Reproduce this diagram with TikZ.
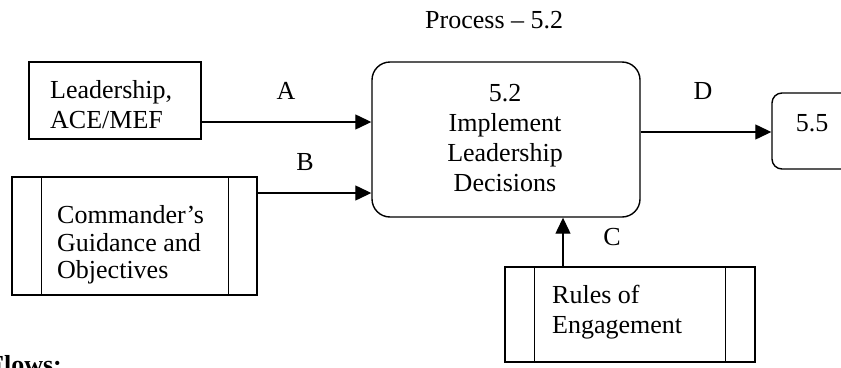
\documentclass[tikz,border=0pt]{standalone}
\usepackage{fontspec}
\setmainfont{Liberation Serif}
\usetikzlibrary{arrows.meta}
\begin{document}
\begin{tikzpicture}[x=1pt,y=-1pt,
  box/.style={draw,line width=1.4pt,inner sep=0pt,minimum width=#1},
  txt/.style={inner sep=0pt,font=\fontsize{26}{30}\selectfont},
  arr/.style={line width=1.3pt,-{Triangle[length=16pt,width=15pt]}},
  lbl/.style={inner sep=0pt,anchor=base,font=\fontsize{26}{30}\selectfont}]
\useasboundingbox (0,0) rectangle (841,367);
% boxes
\node[box=172pt,minimum height=77pt] (lead) at (115,100.5) {};
\node[box=245pt,minimum height=118pt] (cmd) at (134.5,236) {};
\draw[line width=1.4pt] ([xshift=30pt]cmd.north west) -- ([xshift=30pt]cmd.south west)
  ([xshift=-29pt]cmd.north east) -- ([xshift=-29pt]cmd.south east);
\node[box=268pt,minimum height=155pt,rounded corners=18pt] (main) at (506,139.5) {};
\node[box=88pt,minimum height=76pt,rounded corners=10pt] (r55) at (816,131) {};
\node[box=250pt,minimum height=95pt] (rules) at (630,314.5) {};
\draw[line width=1.4pt] ([xshift=30pt]rules.north west) -- ([xshift=30pt]rules.south west)
  ([xshift=-30pt]rules.north east) -- ([xshift=-30pt]rules.south east);
% texts
\node[txt,anchor=base west] (title) at (425,28) {Process -- 5.2};
\node[txt,anchor=north west,align=left] (leadt) at (50,80.5) {Leadership,\\ACE/MEF};
\node[txt,anchor=north west,align=left,font=\fontsize{26}{27.5}\selectfont] (cmdt) at (57,205.5) {Commander’s\\Guidance and\\Objectives};
\node[txt,anchor=north,align=center] (maint) at (505,84.5) {5.2\\Implement\\Leadership\\Decisions};
\node[lbl] (r55t) at (812,131) {5.5};
\node[txt,anchor=north west,align=left] (rulest) at (552,284.5) {Rules of\\Engagement};
\node[inner sep=0pt,anchor=base west,font=\fontsize{26}{30}\selectfont\bfseries] (flows) at (-12,373) {Flows:};
% connectors
\draw[arr] (lead.east |- 0,122) -- (main.west |- 0,122);
\draw[arr] (cmd.east |- 0,193) -- (main.west |- 0,193);
\draw[arr] (main.east |- 0,132) -- (r55.west |- 0,132);
\draw[arr] (rules.north -| 563,0) -- (main.south -| 563,0);
% labels
\node[lbl] (la) at (286,99) {A};
\node[lbl] (lb) at (305,170) {B};
\node[lbl] (lc) at (612,245) {C};
\node[lbl] (ld) at (703,99) {D};
\end{tikzpicture}
\end{document}
